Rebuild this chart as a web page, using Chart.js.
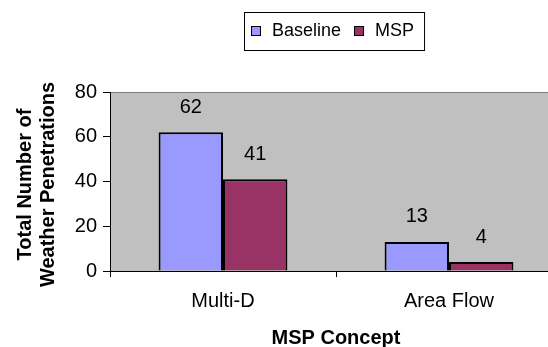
<!DOCTYPE html>
<html>
<head>
<meta charset="utf-8">
<script src="https://cdn.jsdelivr.net/npm/chart.js@4/dist/chart.umd.min.js"></script>
<style>
  html, body { margin: 0; padding: 0; background: #fff; }
  #wrap { width: 548px; height: 347px; overflow: hidden; position: relative; }
  canvas { display: block; }
</style>
</head>
<body>
<div id="wrap"><canvas id="c" width="672" height="347"></canvas></div>
<script>
// Weather penetrations per MSP concept
const categories = ['Multi-D', 'Area Flow'];
const seriesNames = ['Baseline', 'MSP'];
const baselineValues = [62, 13];
const mspValues = [41, 4];
const yTickValues = [0, 20, 40, 60, 80];
const yTitleLines = ['Total Number of', 'Weather Penetrations'];
const xTitle = 'MSP Concept';

const FONT = '"Liberation Sans", Arial, sans-serif';
const seriesColors = ['#9999FF', '#993366'];

// Gray plot area with a thin border line along its top
const plotBackground = {
  id: 'plotBackground',
  beforeDraw(chart) {
    const { ctx, chartArea: a } = chart;
    ctx.save();
    ctx.fillStyle = '#C0C0C0';
    ctx.fillRect(a.left, a.top, a.right - a.left, a.bottom - a.top);
    ctx.strokeStyle = '#808080';
    ctx.lineWidth = 1;
    ctx.beginPath();
    ctx.moveTo(a.left, a.top + 0.5);
    ctx.lineTo(a.right, a.top + 0.5);
    ctx.moveTo(a.right - 0.5, a.top);
    ctx.lineTo(a.right - 0.5, a.bottom);
    ctx.stroke();
    ctx.restore();
  }
};

// Two-line rotated title beside the value axis
const yAxisTitle = {
  id: 'yAxisTitle',
  afterDraw(chart) {
    const { ctx, chartArea: a } = chart;
    ctx.save();
    ctx.font = 'bold 20px ' + FONT;
    ctx.fillStyle = '#000';
    ctx.textAlign = 'center';
    ctx.textBaseline = 'middle';
    const cy = (a.top + a.bottom) / 2 + 3;
    yTitleLines.forEach((line, i) => {
      ctx.save();
      ctx.translate(25 + i * 23, cy);
      ctx.rotate(-Math.PI / 2);
      ctx.fillText(line, 0, 0);
      ctx.restore();
    });
    ctx.restore();
  }
};

// Value labels above each bar
const valueLabels = {
  id: 'valueLabels',
  afterDatasetsDraw(chart) {
    const { ctx } = chart;
    ctx.save();
    ctx.font = '20px ' + FONT;
    ctx.fillStyle = '#000';
    ctx.textAlign = 'center';
    ctx.textBaseline = 'middle';
    chart.data.datasets.forEach((ds, i) => {
      chart.getDatasetMeta(i).data.forEach((bar, j) => {
        ctx.fillText(String(ds.data[j]), bar.x, bar.y - 25);
      });
    });
    ctx.restore();
  }
};

// Boxed legend centred over the plot
const boxedLegend = {
  id: 'boxedLegend',
  afterDraw(chart) {
    const { ctx, chartArea: a } = chart;
    ctx.save();
    ctx.font = '18px ' + FONT;
    const sq = 9, padL = 7, padR = 10, gapSqText = 12, gapItems = 13;
    const items = chart.data.datasets.map(ds => ({
      label: ds.label, color: ds.backgroundColor, w: ctx.measureText(ds.label).width
    }));
    let total = padL + padR;
    items.forEach((it, i) => { total += sq + gapSqText + it.w + (i < items.length - 1 ? gapItems : 0); });
    const cx = (a.left + a.right) / 2 - 2;
    const top = 12, h = 38, midY = top + h / 2;
    let x = Math.round(cx - total / 2);
    ctx.fillStyle = '#fff';
    ctx.fillRect(x, top, total, h);
    ctx.strokeStyle = '#000';
    ctx.lineWidth = 1;
    ctx.strokeRect(x + 0.5, top + 0.5, total, h);
    x += padL;
    items.forEach(it => {
      ctx.fillStyle = it.color;
      ctx.fillRect(x, midY - 5, sq, sq);
      ctx.strokeStyle = '#000';
      ctx.strokeRect(x + 0.5, midY - 5 + 0.5, sq, sq);
      x += sq + gapSqText;
      ctx.fillStyle = '#000';
      ctx.textAlign = 'left';
      ctx.textBaseline = 'middle';
      ctx.fillText(it.label, x, midY);
      x += it.w + gapItems;
    });
    ctx.restore();
  }
};

new Chart(document.getElementById('c'), {
  type: 'bar',
  data: {
    labels: categories,
    datasets: [
      { label: seriesNames[0], data: baselineValues, backgroundColor: seriesColors[0],
        borderColor: '#000', borderWidth: 2, categoryPercentage: 0.57, barPercentage: 1.0 },
      { label: seriesNames[1], data: mspValues, backgroundColor: seriesColors[1],
        borderColor: '#000', borderWidth: 2, categoryPercentage: 0.57, barPercentage: 1.0 }
    ]
  },
  options: {
    responsive: false,
    animation: false,
    devicePixelRatio: 1,
    layout: { padding: { top: 92, right: 110, bottom: 0, left: 0 } },
    plugins: {
      legend: { display: false },
      tooltip: { enabled: false }
    },
    scales: {
      x: {
        offset: true,
        grid: { display: true, offset: true, drawOnChartArea: false, tickLength: 6, color: '#000' },
        border: { display: true, color: '#000', width: 1 },
        ticks: { color: '#000', padding: 12, font: { family: FONT, size: 20 }, maxRotation: 0 },
        title: {
          display: true, text: xTitle, color: '#000',
          font: { family: FONT, size: 20, weight: 'bold', lineHeight: '18px' },
          padding: { top: 0, bottom: 0 }
        },
        afterFit(scale) { scale.height = 76; }
      },
      y: {
        min: 0, max: 80,
        afterBuildTicks(scale) { scale.ticks = yTickValues.map(v => ({ value: v })); },
        grid: { display: true, drawOnChartArea: false, tickLength: 7, color: '#000' },
        border: { display: true, color: '#000', width: 1 },
        ticks: { color: '#000', padding: 6, font: { family: FONT, size: 20 } },
        title: { display: false },
        afterFit(scale) { scale.width = 110; }
      }
    }
  },
  plugins: [plotBackground, valueLabels, yAxisTitle, boxedLegend]
});
</script>
</body>
</html>
